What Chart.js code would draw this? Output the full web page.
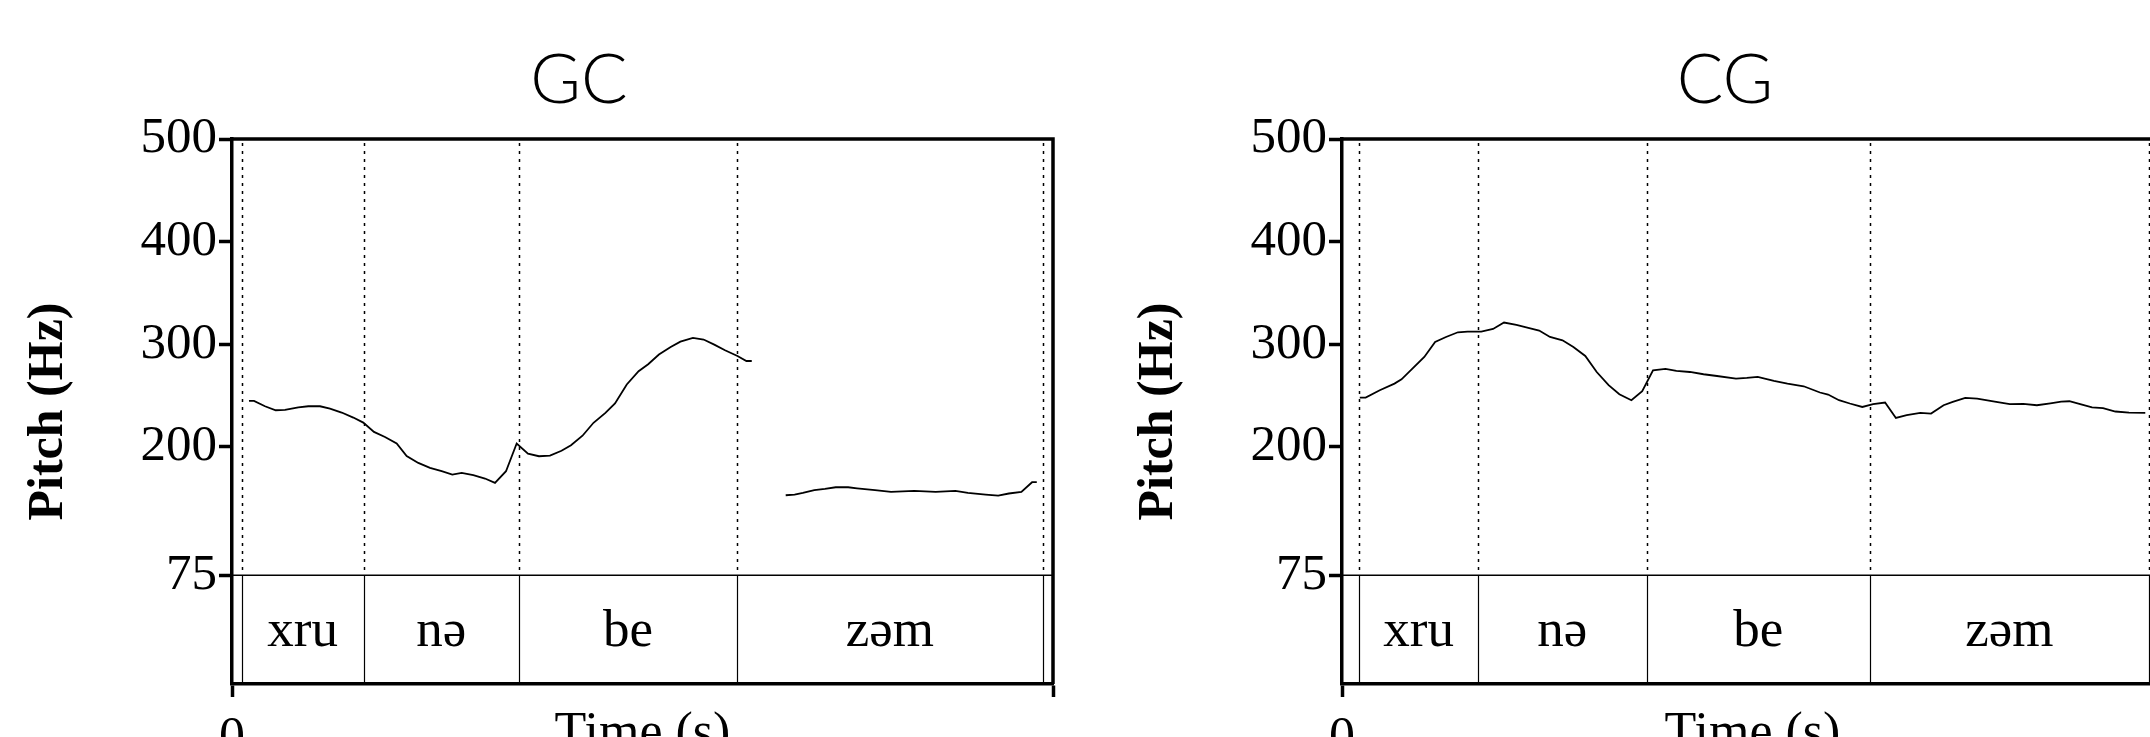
<!DOCTYPE html>
<html>
<head>
<meta charset="utf-8">
<script src="https://cdn.jsdelivr.net/npm/chart.js"></script>
<style>
  html, body { margin: 0; padding: 0; background: #fff; overflow: hidden; width: 2150px; height: 737px; position: relative; }
  .panel { position: absolute; top: 0; width: 1075px; height: 737px; }
</style>
</head>
<body>
<div class="panel" style="left:0"><canvas id="gc" width="1075" height="737"></canvas></div>
<div class="panel" style="left:1110px"><canvas id="cg" width="1075" height="737"></canvas></div>
<script>
// pitch axis ticks (Hz) and the time span of each panel (s)
var yTicks = [75, 200, 300, 400, 500];
var timeMax = 1.2;
var syllables = ["xru", "nə", "be", "zəm"];

// GC: pitch track, null = unvoiced gap
var gcTime = [0.0248, 0.0322, 0.0482, 0.0639, 0.0775, 0.0969, 0.1115, 0.1286, 0.1432, 0.1603,
  0.1773, 0.1919, 0.2075, 0.2236, 0.2407, 0.2553, 0.2723, 0.2894, 0.3065, 0.3220,
  0.3357, 0.3527, 0.3698, 0.3844, 0.4005, 0.4161, 0.4326, 0.4487, 0.4648, 0.4816,
  0.4955, 0.5123, 0.5284, 0.5458, 0.5598, 0.5770, 0.5943, 0.6083, 0.6240, 0.6412,
  0.6554, 0.6737, 0.6893, 0.7049, 0.7206, 0.7388, 0.7519, 0.7597,
  0.7850,
  0.8093, 0.8223, 0.8344, 0.8511, 0.8667, 0.8824, 0.9006, 0.9136, 0.9398, 0.9632,
  0.9973, 1.0285, 1.0573, 1.0756, 1.1016, 1.1199, 1.1355, 1.1538, 1.1694, 1.1763];
var gcPitch = [244.8, 244.8, 239.6, 235.7, 236.0, 238.6, 239.6, 239.6, 237.4, 233.5,
  228.6, 223.7, 214.6, 209.7, 203.3, 191.2, 184.4, 179.5, 176.3, 173.1,
  174.6, 172.4, 169.2, 164.9, 176.3, 203.3, 193.5, 190.9, 191.6, 196.3,
  201.6, 210.9, 223.5, 233.1, 242.3, 260.8, 273.7, 280.5, 290.0, 297.4,
  302.6, 306.2, 304.6, 299.7, 294.2, 288.6, 283.7, 283.7,
  null,
  152.9, 153.6, 155.2, 157.8, 159.1, 160.7, 160.7, 159.7, 157.8, 156.1,
  157.1, 156.1, 157.1, 155.2, 153.6, 152.6, 154.6, 156.1, 165.6, 165.6];
var gcBounds = [0.0140, 0.1923, 0.4195, 0.7381, 1.1848];

// CG: pitch track
var cgTime = [0.0260, 0.0346, 0.0552, 0.0767, 0.0870, 0.1044, 0.1203, 0.1361, 0.1520, 0.1694,
  0.1836, 0.2035, 0.2208, 0.2368, 0.2549, 0.2708, 0.2882, 0.3040, 0.3223, 0.3382,
  0.3556, 0.3723, 0.3897, 0.4054, 0.4230, 0.4388, 0.4546, 0.4728, 0.4888, 0.5085,
  0.5284, 0.5481, 0.5759, 0.5917, 0.6076, 0.6313, 0.6511, 0.6748, 0.6986, 0.7105,
  0.7264, 0.7422, 0.7605, 0.7763, 0.7938, 0.8096, 0.8254, 0.8453, 0.8610, 0.8793,
  0.8927, 0.9110, 0.9284, 0.9562, 0.9761, 0.9958, 1.0157, 1.0354, 1.0512, 1.0632,
  1.0790, 1.0963, 1.1123, 1.1304, 1.1503, 1.1741];
var cgPitch = [248.1, 248.1, 255.2, 261.7, 265.9, 277.3, 287.6, 302.3, 307.1, 311.7,
  312.4, 312.4, 314.9, 321.2, 318.8, 316.3, 313.4, 307.1, 303.9, 297.4,
  288.6, 273.0, 260.1, 251.3, 245.5, 254.2, 274.7, 276.0, 274.0, 273.0,
  270.8, 269.1, 266.6, 267.2, 268.2, 264.3, 261.7, 259.1, 253.0, 251.0,
  245.5, 242.3, 238.9, 241.6, 243.2, 228.2, 230.9, 233.1, 232.5, 240.6,
  243.8, 247.7, 247.1, 243.8, 241.6, 241.9, 240.6, 242.5, 244.2, 244.5,
  241.6, 238.6, 237.7, 234.5, 233.5, 233.1];
var cgBounds = [0.0254, 0.1985, 0.4452, 0.7716, 1.1794];

var serif = "'Liberation Serif', 'Times New Roman', serif";

// draws the text tier, the dotted boundaries, the box and the title
function praatPlugin(title, titleX, bounds) {
  return {
    id: "praat",
    afterDraw: function (chart) {
      var ctx = chart.ctx, a = chart.chartArea;
      var x = chart.scales.x, y = chart.scales.y;
      var y75 = y.getPixelForValue(75);
      ctx.save();
      ctx.strokeStyle = "#000";

      ctx.lineWidth = 1.5;
      ctx.beginPath();
      ctx.moveTo(a.left, y75);
      ctx.lineTo(a.right, y75);
      ctx.stroke();

      bounds.forEach(function (t) {
        var px = Math.round(x.getPixelForValue(t)) + 0.5;
        ctx.lineWidth = 1.5;
        ctx.setLineDash([3, 5]);
        ctx.beginPath();
        ctx.moveTo(px, a.top + 4);
        ctx.lineTo(px, y75);
        ctx.stroke();
        ctx.setLineDash([]);
        ctx.lineWidth = 1.2;
        ctx.beginPath();
        ctx.moveTo(px, y75);
        ctx.lineTo(px, a.bottom);
        ctx.stroke();
      });

      ctx.fillStyle = "#000";
      ctx.font = "53px " + serif;
      ctx.textAlign = "center";
      ctx.textBaseline = "middle";
      var midY = (y75 + a.bottom) / 2 + 2;
      syllables.forEach(function (s, i) {
        var cx = (x.getPixelForValue(bounds[i]) + x.getPixelForValue(bounds[i + 1])) / 2;
        ctx.fillText(s, cx, midY);
      });

      ctx.lineWidth = 3.5;
      ctx.beginPath();
      ctx.moveTo(a.left, a.top);
      ctx.lineTo(a.right, a.top);
      ctx.lineTo(a.right, a.bottom);
      ctx.stroke();

      ctx.font = "300 69px Lato, Roboto, 'Liberation Sans', sans-serif";
      ctx.textBaseline = "alphabetic";
      ctx.fillText(title, titleX, 103);
      ctx.restore();
    }
  };
}

function makeChart(id, title, titleX, times, pitch, bounds) {
  var pts = times.map(function (t, i) { return { x: t, y: pitch[i] }; });
  return new Chart(id, {
    type: "line",
    data: {
      datasets: [{
        data: pts,
        borderColor: "#000",
        borderWidth: 1.8,
        pointRadius: 0,
        fill: false,
        tension: 0,
        spanGaps: false
      }]
    },
    options: {
      responsive: false,
      devicePixelRatio: 1,
      animation: false,
      layout: { padding: { left: 0, right: 22, top: 139, bottom: 0 } },
      plugins: { legend: { display: false }, tooltip: { enabled: false } },
      scales: {
        x: {
          type: "linear",
          min: 0,
          max: timeMax,
          afterBuildTicks: function (ax) { ax.ticks = [{ value: 0 }, { value: timeMax }]; },
          afterFit: function (s) { s.height = 53; },
          ticks: {
            autoSkip: false, maxRotation: 0, padding: 11, color: "#000",
            font: { family: serif, size: 52 },
            callback: function (v) { return v === 0 ? "0" : ""; }
          },
          grid: { drawOnChartArea: false, drawTicks: true, tickLength: 13, tickWidth: 3.5, tickColor: "#000" },
          border: { display: true, width: 3.5, color: "#000" },
          title: {
            display: true, text: "Time (s)", color: "#000",
            font: { family: serif, size: 52 },
            padding: { top: 0, bottom: -29 }
          }
        },
        y: {
          type: "linear",
          min: -31,
          max: 500,
          afterBuildTicks: function (ax) { ax.ticks = yTicks.map(function (v) { return { value: v }; }); },
          afterFit: function (s) { s.width = 232; },
          ticks: { autoSkip: false, padding: 2, color: "#000", font: { family: serif, size: 51 } },
          grid: { drawOnChartArea: false, drawTicks: true, tickLength: 13, tickWidth: 3.5, tickColor: "#000" },
          border: { display: true, width: 3.5, color: "#000" },
          title: {
            display: true, text: "Pitch (Hz)", color: "#000",
            font: { family: serif, size: 50, weight: "bold" },
            padding: { top: 19, bottom: 0 }
          }
        }
      }
    },
    plugins: [praatPlugin(title, titleX, bounds)]
  });
}

makeChart("gc", "GC", 579, gcTime, gcPitch, gcBounds);
makeChart("cg", "CG", 615, cgTime, cgPitch, cgBounds);
</script>
</body>
</html>
